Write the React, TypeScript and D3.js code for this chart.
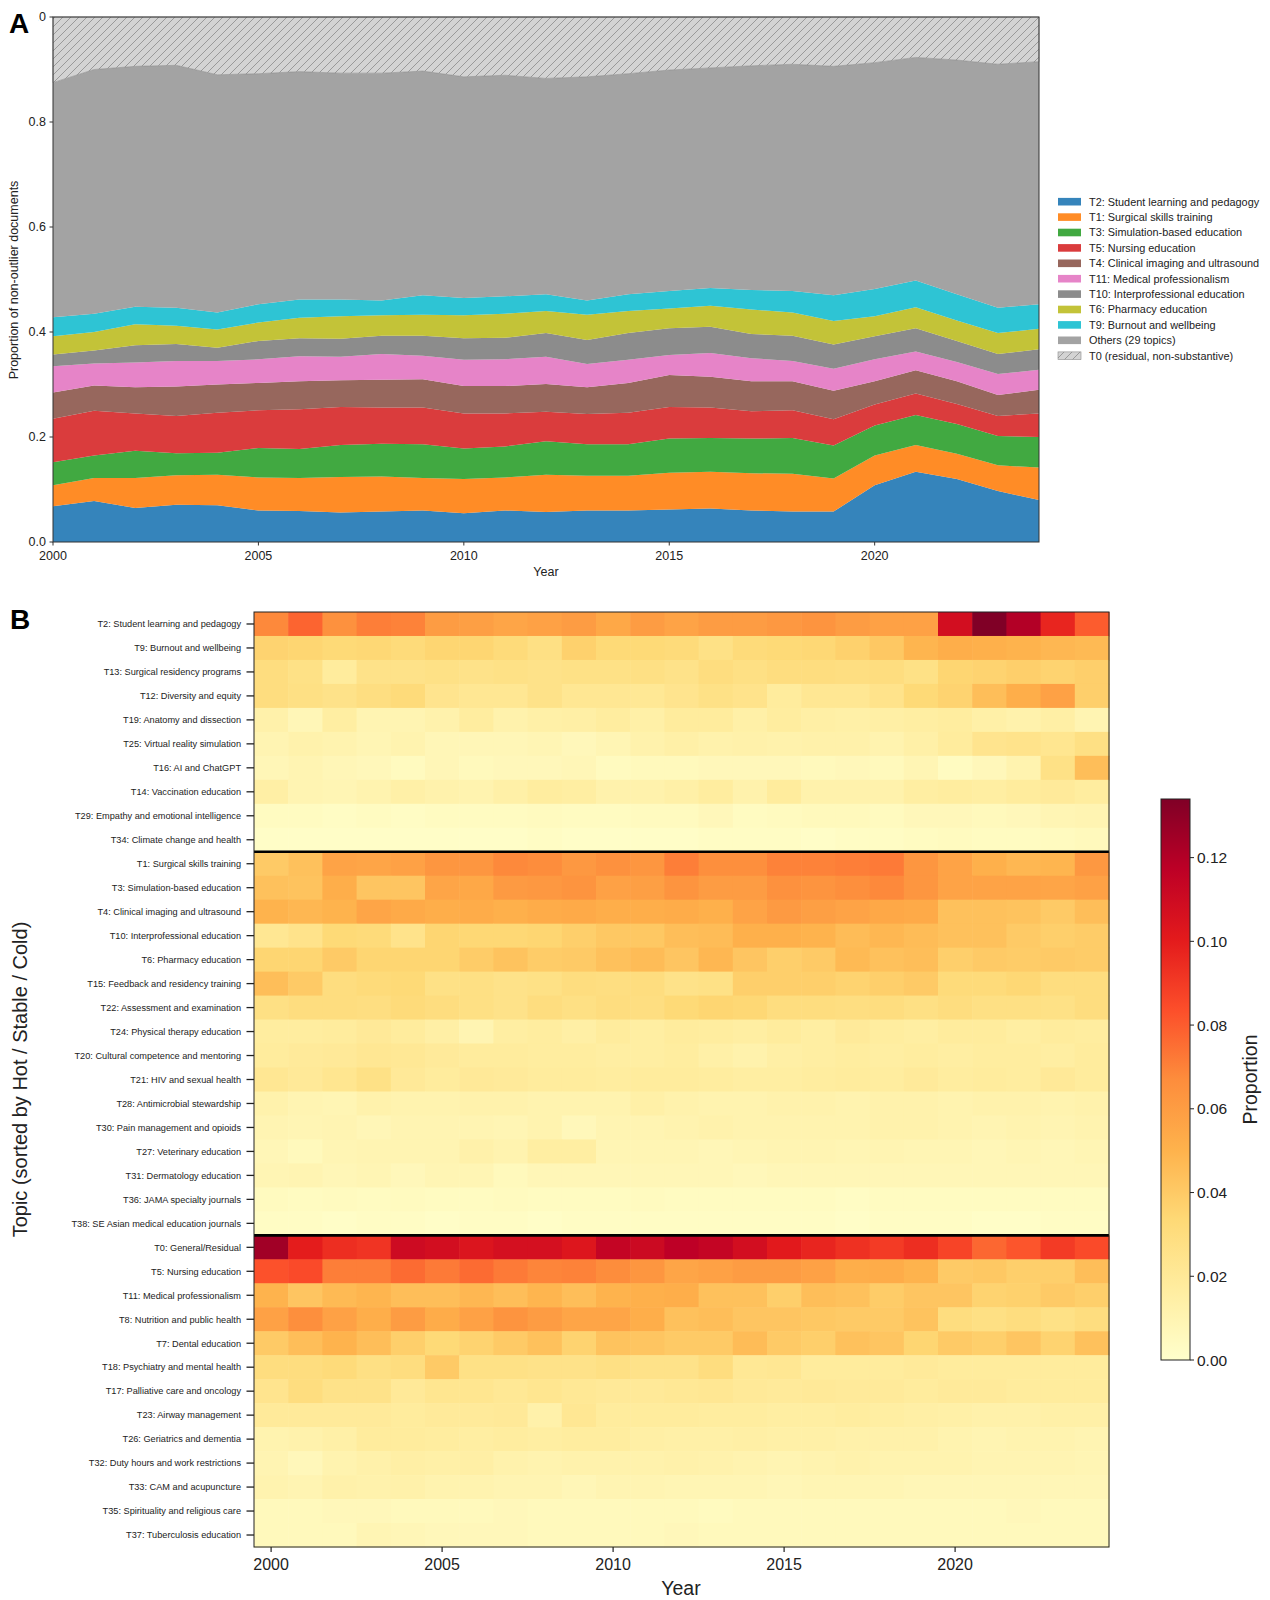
import * as d3 from "d3";

// ---- shared
const years = [2000, 2001, 2002, 2003, 2004, 2005, 2006, 2007, 2008, 2009, 2010, 2011, 2012, 2013, 2014, 2015, 2016, 2017, 2018, 2019, 2020, 2021, 2022, 2023, 2024];

// ---- topic proportions per year
const t2 = [0.068, 0.078, 0.065, 0.071, 0.070, 0.060, 0.059, 0.056, 0.058, 0.060, 0.055, 0.060, 0.057, 0.060, 0.060, 0.062, 0.064, 0.060, 0.058, 0.058, 0.108, 0.134, 0.120, 0.097, 0.080];
const t1 = [0.040, 0.044, 0.057, 0.056, 0.058, 0.063, 0.063, 0.068, 0.067, 0.062, 0.065, 0.063, 0.071, 0.066, 0.066, 0.070, 0.070, 0.071, 0.072, 0.063, 0.057, 0.051, 0.048, 0.049, 0.062];
const t3 = [0.044, 0.043, 0.052, 0.042, 0.042, 0.056, 0.055, 0.061, 0.062, 0.064, 0.058, 0.059, 0.064, 0.060, 0.060, 0.065, 0.064, 0.066, 0.068, 0.063, 0.057, 0.057, 0.057, 0.056, 0.058];
const t5 = [0.083, 0.085, 0.071, 0.071, 0.076, 0.072, 0.076, 0.072, 0.069, 0.070, 0.067, 0.063, 0.056, 0.058, 0.060, 0.060, 0.058, 0.052, 0.053, 0.050, 0.040, 0.041, 0.038, 0.038, 0.045];
const t4 = [0.050, 0.048, 0.050, 0.056, 0.054, 0.052, 0.053, 0.051, 0.053, 0.054, 0.052, 0.052, 0.053, 0.051, 0.057, 0.061, 0.059, 0.057, 0.055, 0.054, 0.044, 0.044, 0.043, 0.040, 0.045];
const t11 = [0.050, 0.042, 0.047, 0.049, 0.045, 0.045, 0.048, 0.045, 0.049, 0.045, 0.050, 0.051, 0.052, 0.044, 0.044, 0.038, 0.045, 0.044, 0.039, 0.042, 0.042, 0.036, 0.037, 0.040, 0.038];
const t10 = [0.022, 0.025, 0.033, 0.032, 0.025, 0.035, 0.034, 0.034, 0.035, 0.038, 0.041, 0.041, 0.045, 0.046, 0.051, 0.051, 0.050, 0.046, 0.048, 0.046, 0.044, 0.044, 0.040, 0.038, 0.039];
const t6 = [0.035, 0.035, 0.040, 0.035, 0.035, 0.035, 0.039, 0.043, 0.039, 0.040, 0.044, 0.046, 0.042, 0.048, 0.042, 0.038, 0.040, 0.047, 0.044, 0.045, 0.038, 0.040, 0.039, 0.040, 0.039];
const t9 = [0.036, 0.035, 0.033, 0.034, 0.032, 0.035, 0.035, 0.032, 0.028, 0.037, 0.033, 0.033, 0.032, 0.027, 0.032, 0.033, 0.034, 0.037, 0.041, 0.049, 0.052, 0.051, 0.050, 0.048, 0.047];
const others = [0.447, 0.465, 0.458, 0.462, 0.453, 0.439, 0.434, 0.431, 0.433, 0.427, 0.421, 0.421, 0.411, 0.426, 0.420, 0.421, 0.419, 0.427, 0.432, 0.436, 0.431, 0.425, 0.446, 0.464, 0.462];
const t0 = [0.125, 0.100, 0.094, 0.092, 0.110, 0.108, 0.104, 0.107, 0.107, 0.103, 0.114, 0.111, 0.117, 0.114, 0.108, 0.101, 0.097, 0.093, 0.090, 0.094, 0.087, 0.077, 0.082, 0.090, 0.085];

const t13 = [0.030, 0.027, 0.018, 0.026, 0.026, 0.027, 0.026, 0.027, 0.026, 0.027, 0.027, 0.028, 0.026, 0.030, 0.028, 0.030, 0.030, 0.029, 0.030, 0.027, 0.035, 0.036, 0.038, 0.036, 0.038];
const t12 = [0.030, 0.028, 0.026, 0.029, 0.032, 0.024, 0.022, 0.022, 0.026, 0.022, 0.022, 0.021, 0.024, 0.027, 0.025, 0.018, 0.022, 0.022, 0.025, 0.033, 0.036, 0.045, 0.052, 0.058, 0.038];
const t19 = [0.013, 0.008, 0.016, 0.010, 0.010, 0.012, 0.017, 0.012, 0.014, 0.015, 0.017, 0.014, 0.018, 0.018, 0.014, 0.017, 0.015, 0.014, 0.015, 0.016, 0.017, 0.014, 0.012, 0.015, 0.010];
const t25 = [0.010, 0.012, 0.011, 0.009, 0.011, 0.008, 0.008, 0.008, 0.009, 0.007, 0.009, 0.012, 0.014, 0.012, 0.013, 0.012, 0.013, 0.013, 0.011, 0.014, 0.018, 0.024, 0.025, 0.023, 0.028];
const t16 = [0.008, 0.010, 0.008, 0.007, 0.005, 0.008, 0.006, 0.007, 0.007, 0.008, 0.005, 0.006, 0.006, 0.007, 0.007, 0.007, 0.006, 0.007, 0.006, 0.009, 0.004, 0.007, 0.011, 0.027, 0.045];
const t14 = [0.015, 0.010, 0.009, 0.011, 0.014, 0.012, 0.011, 0.014, 0.017, 0.016, 0.012, 0.012, 0.014, 0.017, 0.012, 0.018, 0.012, 0.012, 0.012, 0.016, 0.017, 0.016, 0.018, 0.019, 0.017];
const t29 = [0.004, 0.004, 0.003, 0.004, 0.003, 0.004, 0.004, 0.004, 0.005, 0.004, 0.004, 0.005, 0.005, 0.007, 0.004, 0.005, 0.006, 0.006, 0.005, 0.007, 0.007, 0.006, 0.007, 0.009, 0.010];
const t34 = [0.002, 0.002, 0.002, 0.002, 0.002, 0.002, 0.002, 0.002, 0.003, 0.002, 0.002, 0.002, 0.002, 0.003, 0.003, 0.003, 0.002, 0.003, 0.003, 0.004, 0.005, 0.004, 0.004, 0.005, 0.006];

const t15 = [0.045, 0.040, 0.030, 0.032, 0.033, 0.027, 0.028, 0.026, 0.027, 0.030, 0.029, 0.030, 0.026, 0.027, 0.038, 0.038, 0.038, 0.036, 0.038, 0.040, 0.032, 0.032, 0.034, 0.030, 0.030];
const t22 = [0.028, 0.030, 0.030, 0.029, 0.032, 0.030, 0.028, 0.026, 0.030, 0.028, 0.030, 0.029, 0.033, 0.035, 0.034, 0.030, 0.030, 0.029, 0.030, 0.028, 0.030, 0.028, 0.028, 0.027, 0.030];
const t24 = [0.017, 0.017, 0.018, 0.020, 0.018, 0.015, 0.010, 0.016, 0.017, 0.015, 0.018, 0.016, 0.018, 0.017, 0.016, 0.018, 0.016, 0.019, 0.017, 0.016, 0.018, 0.018, 0.016, 0.018, 0.017];
const t20 = [0.018, 0.019, 0.020, 0.022, 0.021, 0.019, 0.018, 0.018, 0.017, 0.017, 0.016, 0.016, 0.017, 0.014, 0.012, 0.015, 0.016, 0.017, 0.016, 0.017, 0.016, 0.017, 0.017, 0.016, 0.018];
const t21 = [0.022, 0.020, 0.023, 0.027, 0.020, 0.018, 0.020, 0.019, 0.018, 0.018, 0.017, 0.018, 0.018, 0.017, 0.016, 0.016, 0.017, 0.018, 0.017, 0.019, 0.017, 0.018, 0.017, 0.020, 0.018];
const t28 = [0.012, 0.010, 0.009, 0.012, 0.011, 0.011, 0.012, 0.012, 0.011, 0.011, 0.011, 0.014, 0.012, 0.011, 0.011, 0.012, 0.012, 0.011, 0.012, 0.012, 0.011, 0.012, 0.012, 0.011, 0.012];
const t30 = [0.010, 0.009, 0.010, 0.008, 0.010, 0.010, 0.010, 0.009, 0.011, 0.007, 0.010, 0.010, 0.011, 0.012, 0.011, 0.011, 0.011, 0.011, 0.012, 0.012, 0.011, 0.010, 0.011, 0.010, 0.011];
const t27 = [0.008, 0.006, 0.009, 0.010, 0.010, 0.010, 0.013, 0.011, 0.016, 0.016, 0.009, 0.009, 0.009, 0.008, 0.009, 0.010, 0.010, 0.009, 0.010, 0.009, 0.009, 0.008, 0.009, 0.008, 0.009];
const t31 = [0.009, 0.010, 0.008, 0.009, 0.007, 0.009, 0.009, 0.006, 0.008, 0.008, 0.008, 0.008, 0.008, 0.008, 0.007, 0.008, 0.008, 0.008, 0.008, 0.008, 0.008, 0.008, 0.008, 0.008, 0.008];
const t36 = [0.005, 0.004, 0.005, 0.004, 0.005, 0.004, 0.004, 0.005, 0.004, 0.004, 0.004, 0.005, 0.004, 0.004, 0.004, 0.004, 0.004, 0.003, 0.004, 0.004, 0.004, 0.004, 0.004, 0.004, 0.004];
const t38 = [0.003, 0.003, 0.002, 0.003, 0.003, 0.002, 0.003, 0.003, 0.002, 0.003, 0.003, 0.003, 0.003, 0.003, 0.003, 0.003, 0.003, 0.002, 0.003, 0.003, 0.003, 0.002, 0.002, 0.003, 0.003];

const t8 = [0.058, 0.066, 0.058, 0.052, 0.060, 0.053, 0.058, 0.064, 0.060, 0.056, 0.056, 0.052, 0.044, 0.045, 0.042, 0.042, 0.041, 0.040, 0.040, 0.043, 0.030, 0.028, 0.030, 0.027, 0.030];
const t7 = [0.040, 0.045, 0.050, 0.045, 0.038, 0.033, 0.036, 0.040, 0.044, 0.036, 0.043, 0.042, 0.040, 0.040, 0.046, 0.040, 0.038, 0.044, 0.042, 0.035, 0.040, 0.038, 0.042, 0.036, 0.044];
const t18 = [0.030, 0.030, 0.032, 0.028, 0.030, 0.040, 0.027, 0.027, 0.026, 0.026, 0.028, 0.026, 0.026, 0.030, 0.021, 0.022, 0.018, 0.018, 0.018, 0.019, 0.018, 0.018, 0.018, 0.018, 0.018];
const t17 = [0.024, 0.030, 0.026, 0.026, 0.020, 0.023, 0.023, 0.021, 0.023, 0.021, 0.020, 0.020, 0.021, 0.022, 0.020, 0.019, 0.020, 0.019, 0.019, 0.018, 0.019, 0.019, 0.018, 0.018, 0.018];
const t23 = [0.019, 0.019, 0.019, 0.019, 0.018, 0.019, 0.019, 0.020, 0.013, 0.022, 0.018, 0.018, 0.018, 0.017, 0.017, 0.016, 0.016, 0.017, 0.016, 0.015, 0.014, 0.013, 0.013, 0.014, 0.014];
const t26 = [0.011, 0.012, 0.014, 0.018, 0.018, 0.017, 0.016, 0.017, 0.016, 0.017, 0.017, 0.015, 0.014, 0.014, 0.015, 0.014, 0.014, 0.013, 0.013, 0.013, 0.011, 0.010, 0.011, 0.011, 0.010];
const t32 = [0.010, 0.007, 0.011, 0.013, 0.015, 0.014, 0.015, 0.012, 0.011, 0.012, 0.012, 0.012, 0.013, 0.012, 0.011, 0.010, 0.011, 0.012, 0.011, 0.011, 0.011, 0.010, 0.010, 0.010, 0.009];
const t33 = [0.011, 0.010, 0.013, 0.012, 0.013, 0.011, 0.011, 0.010, 0.010, 0.008, 0.010, 0.010, 0.009, 0.009, 0.009, 0.008, 0.009, 0.009, 0.009, 0.008, 0.008, 0.008, 0.008, 0.008, 0.008];
const t35 = [0.006, 0.006, 0.007, 0.007, 0.006, 0.006, 0.006, 0.007, 0.006, 0.006, 0.006, 0.006, 0.006, 0.005, 0.006, 0.006, 0.006, 0.006, 0.006, 0.006, 0.006, 0.006, 0.007, 0.006, 0.006];
const t37 = [0.006, 0.006, 0.006, 0.009, 0.008, 0.007, 0.007, 0.007, 0.006, 0.006, 0.006, 0.006, 0.007, 0.006, 0.006, 0.006, 0.006, 0.006, 0.006, 0.006, 0.006, 0.006, 0.006, 0.006, 0.006];

// ---- panel A: stacked areas, bottom to top
const stackKeys = ["T2", "T1", "T3", "T5", "T4", "T11", "T10", "T6", "T9", "Others", "T0"];
const stackLabels = [
  "T2: Student learning and pedagogy",
  "T1: Surgical skills training",
  "T3: Simulation-based education",
  "T5: Nursing education",
  "T4: Clinical imaging and ultrasound",
  "T11: Medical professionalism",
  "T10: Interprofessional education",
  "T6: Pharmacy education",
  "T9: Burnout and wellbeing",
  "Others (29 topics)",
  "T0 (residual, non-substantive)",
];
const stackSeries = [t2, t1, t3, t5, t4, t11, t10, t6, t9, others, t0];
const stackColors = ["#1f77b4", "#ff7f0e", "#2ca02c", "#d62728", "#8c564b", "#e377c2", "#7f7f7f", "#bcbd22", "#17becf", "#999999", "#d3d3d3"];
const yTicksA = [0, 0.2, 0.4, 0.6, 0.8, 1.0];
const yTickLabelsA = ["0.0", "0.2", "0.4", "0.6", "0.8", "1.0"];
const xTicks = [2000, 2005, 2010, 2015, 2020];

// ---- panel B: heatmap rows, sorted Hot / Stable / Cold
const hotLabels = ["T2: Student learning and pedagogy", "T9: Burnout and wellbeing", "T13: Surgical residency programs", "T12: Diversity and equity", "T19: Anatomy and dissection", "T25: Virtual reality simulation", "T16: AI and ChatGPT", "T14: Vaccination education", "T29: Empathy and emotional intelligence", "T34: Climate change and health"];
const hotValues = [t2, t9, t13, t12, t19, t25, t16, t14, t29, t34];
const stableLabels = ["T1: Surgical skills training", "T3: Simulation-based education", "T4: Clinical imaging and ultrasound", "T10: Interprofessional education", "T6: Pharmacy education", "T15: Feedback and residency training", "T22: Assessment and examination", "T24: Physical therapy education", "T20: Cultural competence and mentoring", "T21: HIV and sexual health", "T28: Antimicrobial stewardship", "T30: Pain management and opioids", "T27: Veterinary education", "T31: Dermatology education", "T36: JAMA specialty journals", "T38: SE Asian medical education journals"];
const stableValues = [t1, t3, t4, t10, t6, t15, t22, t24, t20, t21, t28, t30, t27, t31, t36, t38];
const coldLabels = ["T0: General/Residual", "T5: Nursing education", "T11: Medical professionalism", "T8: Nutrition and public health", "T7: Dental education", "T18: Psychiatry and mental health", "T17: Palliative care and oncology", "T23: Airway management", "T26: Geriatrics and dementia", "T32: Duty hours and work restrictions", "T33: CAM and acupuncture", "T35: Spirituality and religious care", "T37: Tuberculosis education"];
const coldValues = [t0, t5, t11, t8, t7, t18, t17, t23, t26, t32, t33, t35, t37];
const cbTicks = [0, 0.02, 0.04, 0.06, 0.08, 0.1, 0.12];
const cbTickLabels = ["0.00", "0.02", "0.04", "0.06", "0.08", "0.10", "0.12"];

// matplotlib YlOrRd anchors
const ylOrRd = ["#ffffcc", "#ffeda0", "#fed976", "#feb24c", "#fd8d3c", "#fc4e2a", "#e31a1c", "#bd0026", "#800026"];

const FONT = "'Liberation Sans', Arial, Helvetica, sans-serif";

export default function App() {
  // panel A
  const xA = d3.scaleLinear().domain([2000, 2024]).range([53, 1039]);
  const yA = d3.scaleLinear().domain([0, 1]).range([542, 17]);
  const table = years.map((yr, i) => {
    const row: any = { year: yr };
    stackKeys.forEach((k, j) => (row[k] = stackSeries[j][i]));
    return row;
  });
  const stacked = d3.stack<any>().keys(stackKeys)(table);
  const area = d3
    .area<any>()
    .x((d) => xA(d.data.year))
    .y0((d) => yA(d[0]))
    .y1((d) => yA(Math.min(1, d[1])));

  // panel B
  const rowLabels = [...hotLabels, ...stableLabels, ...coldLabels];
  const rowValues = [...hotValues, ...stableValues, ...coldValues];
  const xB = d3.scaleBand<string>().domain(years.map(String)).range([254, 1109]);
  const yB = d3.scaleBand<string>().domain(rowLabels).range([612, 1547]);
  const vmax = d3.max(rowValues, (r) => d3.max(r)) as number;
  const color = d3
    .scaleLinear<string>()
    .domain(ylOrRd.map((_, i) => (vmax * i) / (ylOrRd.length - 1)))
    .range(ylOrRd)
    .interpolate(d3.interpolateRgb)
    .clamp(true);
  const cbY = d3.scaleLinear().domain([0, vmax]).range([1360, 799]);
  const sepRows = [hotLabels.length, hotLabels.length + stableLabels.length];

  return (
    <svg
      width={1270}
      height={1600}
      style={{ position: "absolute", left: 0, top: 0, background: "#fff" }}
      fontFamily={FONT}
    >
      <defs>
        <pattern id="hatch" patternUnits="userSpaceOnUse" width={8} height={8}>
          <rect width={8} height={8} fill="#d3d3d3" />
          <path d="M-2,2 l4,-4 M0,8 l8,-8 M6,10 l4,-4" stroke="#8a8a8a" strokeWidth={0.8} />
        </pattern>
        <linearGradient id="cbar" x1="0" y1="1" x2="0" y2="0">
          {ylOrRd.map((c, i) => (
            <stop key={i} offset={i / (ylOrRd.length - 1)} stopColor={c} />
          ))}
        </linearGradient>
      </defs>

      {/* ---------- Panel A ---------- */}
      {stacked.map((s, i) => (
        <path
          key={s.key}
          d={area(s) || ""}
          fill={s.key === "T0" ? "url(#hatch)" : stackColors[i]}
          fillOpacity={s.key === "T0" ? 1 : 0.9}
          stroke={s.key === "T0" ? "#8a8a8a" : "none"}
          strokeWidth={0.6}
        />
      ))}
      <rect x={53} y={17} width={986} height={525} fill="none" stroke="#333" strokeWidth={1} />
      {yTicksA.map((t, i) => (
        <g key={t}>
          <line x1={49.5} x2={53} y1={yA(t)} y2={yA(t)} stroke="#333" />
          <text x={46} y={yA(t) + 4.3} fontSize={12.5} textAnchor="end" fill="#222">
            {yTickLabelsA[i]}
          </text>
        </g>
      ))}
      {xTicks.map((t) => (
        <g key={t}>
          <line x1={xA(t)} x2={xA(t)} y1={542} y2={545.5} stroke="#333" />
          <text x={xA(t)} y={560} fontSize={12.5} textAnchor="middle" fill="#222">
            {t}
          </text>
        </g>
      ))}
      <text x={546} y={576} fontSize={12.5} textAnchor="middle" fill="#222">
        Year
      </text>
      <text transform="translate(18,280) rotate(-90)" fontSize={12.5} textAnchor="middle" fill="#222">
        Proportion of non-outlier documents
      </text>
      {/* the panel letter sits on a white box that hides part of the top tick label */}
      <rect x={3} y={6} width={35.5} height={32} fill="#fff" />
      <text x={9} y={33} fontSize={28} fontWeight="bold" fill="#000">
        A
      </text>

      {/* legend, top entry first */}
      {stackLabels.map((lab, i) => {
        const cy = 201.7 + i * 15.4;
        return (
          <g key={lab}>
            <rect
              x={1058}
              y={cy - 3.8}
              width={23}
              height={7.6}
              fill={i === stackLabels.length - 1 ? "url(#hatch)" : stackColors[i]}
              fillOpacity={i === stackLabels.length - 1 ? 1 : 0.9}
              stroke={i === stackLabels.length - 1 ? "#8a8a8a" : "none"}
              strokeWidth={0.6}
            />
            <text x={1089} y={cy + 3.9} fontSize={10.9} fill="#222">
              {lab}
            </text>
          </g>
        );
      })}

      {/* ---------- Panel B ---------- */}
      {rowLabels.map((lab, r) =>
        years.map((yr, c) => (
          <rect
            key={lab + yr}
            x={xB(String(yr))}
            y={yB(lab)}
            width={xB.bandwidth() + 0.6}
            height={yB.bandwidth() + 0.6}
            fill={color(rowValues[r][c])}
          />
        ))
      )}
      {sepRows.map((r) => (
        <line key={r} x1={254} x2={1109} y1={yB(rowLabels[r])} y2={yB(rowLabels[r])} stroke="#000" strokeWidth={2.6} />
      ))}
      <rect x={254} y={612} width={855} height={935} fill="none" stroke="#222" strokeWidth={1} />
      {rowLabels.map((lab) => {
        const cy = (yB(lab) as number) + yB.bandwidth() / 2;
        return (
          <g key={lab}>
            <line x1={246.5} x2={254} y1={cy} y2={cy} stroke="#222" strokeWidth={1.3} />
            <text x={241} y={cy + 3.3} fontSize={9.2} textAnchor="end" fill="#222">
              {lab}
            </text>
          </g>
        );
      })}
      {xTicks.map((t) => {
        const cx = (xB(String(t)) as number) + xB.bandwidth() / 2;
        return (
          <g key={t}>
            <line x1={cx} x2={cx} y1={1547} y2={1552} stroke="#222" strokeWidth={1.2} />
            <text x={cx} y={1570} fontSize={16} textAnchor="middle" fill="#222">
              {t}
            </text>
          </g>
        );
      })}
      <text x={681} y={1595} fontSize={19.5} textAnchor="middle" fill="#222">
        Year
      </text>
      <text transform="translate(27,1079.5) rotate(-90)" fontSize={20} textAnchor="middle" fill="#222">
        Topic (sorted by Hot / Stable / Cold)
      </text>
      <text x={10} y={629} fontSize={28} fontWeight="bold" fill="#000">
        B
      </text>

      {/* colorbar */}
      <rect x={1161} y={799} width={29} height={561} fill="url(#cbar)" stroke="#222" strokeWidth={1} />
      {cbTicks.map((t, i) => (
        <g key={t}>
          <line x1={1190} x2={1194} y1={cbY(t)} y2={cbY(t)} stroke="#222" strokeWidth={1} />
          <text x={1197} y={cbY(t) + 5.5} fontSize={15.5} fill="#222">
            {cbTickLabels[i]}
          </text>
        </g>
      ))}
      <text transform="translate(1257,1079.5) rotate(-90)" fontSize={19.5} textAnchor="middle" fill="#222">
        Proportion
      </text>
    </svg>
  );
}
